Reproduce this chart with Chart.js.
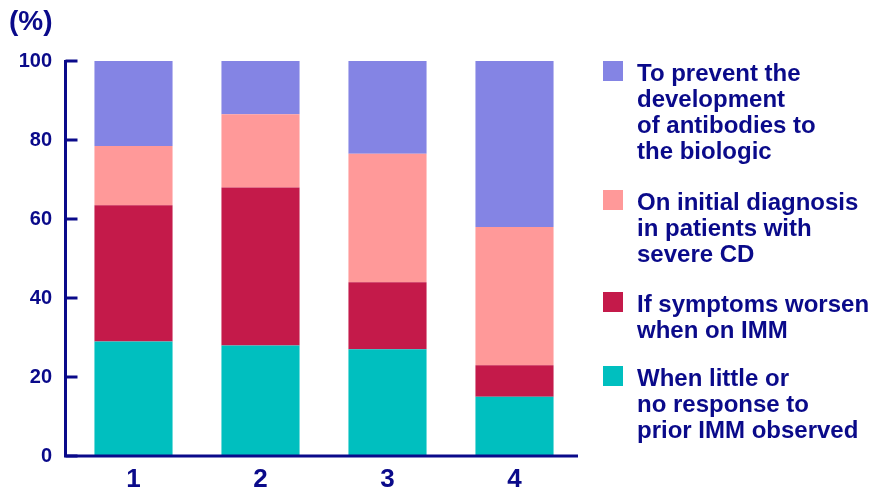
<!DOCTYPE html>
<html>
<head>
<meta charset="utf-8">
<script src="https://cdn.jsdelivr.net/npm/chart.js@4.4.1/dist/chart.umd.min.js"></script>
<style>
  body { margin: 0; background: #fff; font-family: "Liberation Sans", Arial, sans-serif; }
  #wrap { position: relative; width: 877px; height: 491px; }
  #unit { position: absolute; left: 9px; top: 5px; font-size: 28px; font-weight: bold; color: #0a0a8a; }
  #legend { position: absolute; left: 601px; top: 0; width: 276px; }
  .item { position: absolute; left: 0; }
  .box { position: absolute; left: 2px; width: 20px; height: 20px; }
  .txt { position: absolute; left: 36px; font-size: 24px; font-weight: bold; color: #0a0a8a; line-height: 26px; white-space: nowrap; }
</style>
</head>
<body>
<div id="wrap">
  <canvas id="mycanvas" width="877" height="491"></canvas>
  <div id="unit">(%)</div>
  <div id="legend"></div>
</div>
<script>
var groups = ["1", "2", "3", "4"];
var littleResponse = [29, 28, 27, 15];
var symptomsWorsen = [34.5, 40, 17, 8];
var initialDiagnosis = [15, 18.5, 32.5, 35];
var preventAntibodies = [21.5, 13.5, 23.5, 42];
var yTicks = [0, 20, 40, 60, 80, 100];

var navy = "#0a0a8a";

var series = [
  { label: ["When little or", "no response to", "prior IMM observed"], data: littleResponse, color: "#00bfbf", top: 366 },
  { label: ["If symptoms worsen", "when on IMM"], data: symptomsWorsen, color: "#c41a4a", top: 292 },
  { label: ["On initial diagnosis", "in patients with", "severe CD"], data: initialDiagnosis, color: "#ff9999", top: 190 },
  { label: ["To prevent the", "development", "of antibodies to", "the biologic"], data: preventAntibodies, color: "#8484e4", top: 61 }
];

// legend on the right
var legend = document.getElementById("legend");
for (var i in series) {
  var s = series[i];
  var it = document.createElement("div");
  it.className = "item";
  it.style.top = s.top + "px";
  var box = document.createElement("div");
  box.className = "box";
  box.style.background = s.color;
  it.appendChild(box);
  var t = document.createElement("div");
  t.className = "txt";
  t.style.top = "-1px";
  t.innerHTML = s.label.join("<br>");
  it.appendChild(t);
  legend.appendChild(it);
}

// axis lines sit a little left of the plot area, ticks point inward
var axesLines = {
  id: "axesLines",
  afterDraw: function(chart) {
    var c = chart.ctx;
    var y = chart.scales.y;
    var area = chart.chartArea;
    var ax = area.left - 4.5;
    var y0 = y.getPixelForValue(0);
    c.save();
    c.strokeStyle = navy;
    c.lineWidth = 3;
    c.beginPath();
    c.moveTo(ax, y.getPixelForValue(100) - 1);
    c.lineTo(ax, y0);
    c.lineTo(area.right, y0);
    c.stroke();
    for (var k in yTicks) {
      var py = y.getPixelForValue(yTicks[k]);
      c.beginPath();
      c.moveTo(ax, py);
      c.lineTo(ax + 12, py);
      c.stroke();
    }
    c.restore();
  }
};

var datasets = [];
for (var i in series) {
  datasets.push({
    label: series[i].label.join(" "),
    data: series[i].data,
    backgroundColor: series[i].color,
    borderWidth: 0,
    barPercentage: 0.615,
    categoryPercentage: 1
  });
}

var ctx = document.getElementById("mycanvas");
var chart = new Chart(ctx, {
  type: "bar",
  data: { labels: groups, datasets: datasets },
  plugins: [axesLines],
  options: {
    responsive: false,
    animation: false,
    layout: { padding: { left: 0, right: 299, top: 61, bottom: 0 } },
    plugins: { legend: { display: false }, tooltip: { enabled: false } },
    scales: {
      x: {
        stacked: true,
        grid: { display: false, drawTicks: false },
        border: { display: false },
        ticks: { color: navy, font: { family: "Liberation Sans", size: 26, weight: "bold" }, padding: 8 },
        afterFit: function(scale) { scale.height = 35; }
      },
      y: {
        stacked: true,
        min: 0,
        max: 100,
        grid: { display: false, drawTicks: false },
        border: { display: false },
        ticks: { stepSize: 20, color: navy, font: { family: "Liberation Sans", size: 20, weight: "bold" }, padding: 18 },
        afterFit: function(scale) { scale.width = 70; }
      }
    }
  }
});
</script>
</body>
</html>
